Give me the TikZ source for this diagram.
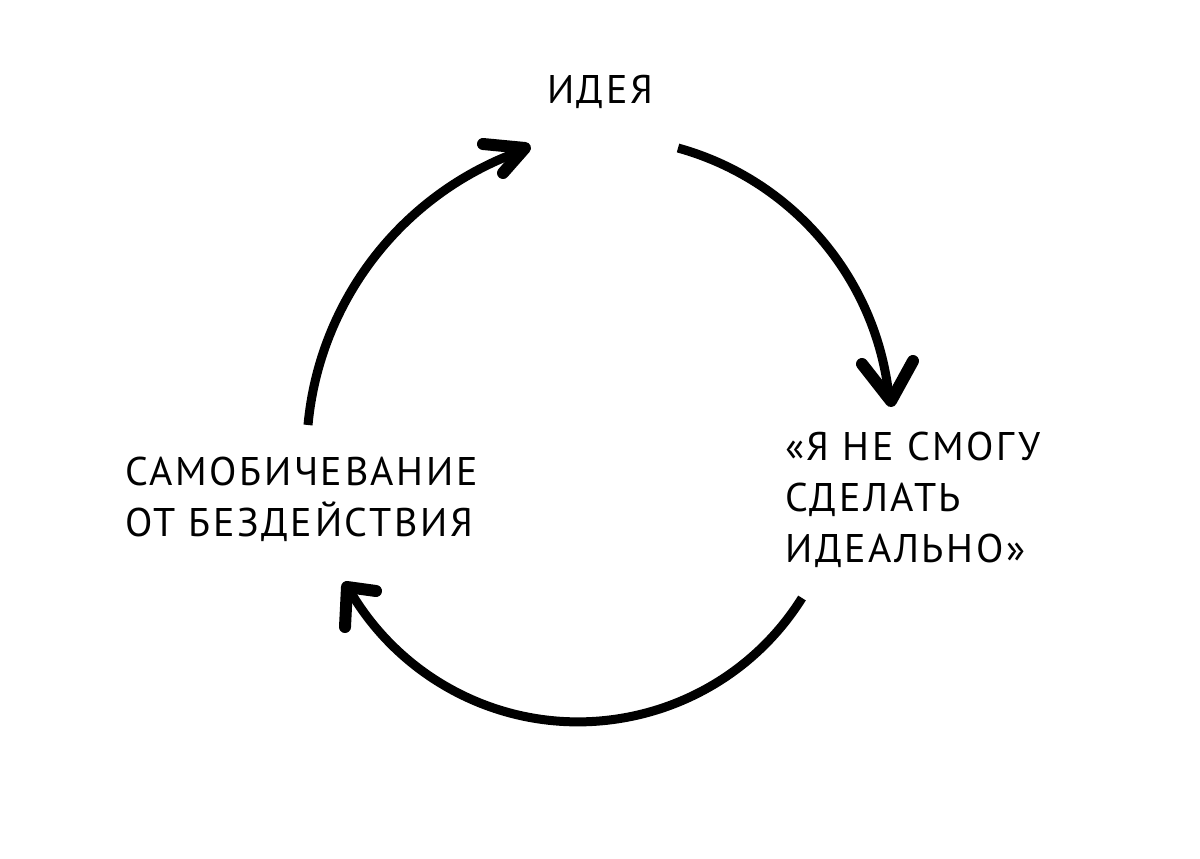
\documentclass[tikz,border=0pt]{standalone}
\usepackage{fontspec}
\setmainfont{PT Sans}[LetterSpace=6.5]
\begin{document}
\begin{tikzpicture}[x=1pt,y=-1pt,
  shaft/.style={line width=9pt, line cap=butt},
  barb/.style={line width=12pt, line cap=round, line join=round},
  lbl/.style={font=\fontsize{40}{51}\selectfont, inner sep=0pt, align=left}]
\path[use as bounding box, fill=white] (0,0) rectangle (1200,859);
% labels
\node[lbl, anchor=base] (idea) at (600,103) {ИДЕЯ};
\node[lbl, anchor=north west] (perf) at (785,432) {«Я НЕ СМОГУ\\СДЕЛАТЬ\\ИДЕАЛЬНО»};
\node[lbl, anchor=north west] (self) at (125,457) {САМОБИЧЕВАНИЕ\\ОТ БЕЗДЕЙСТВИЯ};
% connector end points
\coordinate (r0) at (678,148);
\coordinate (r1) at (891,401);
\coordinate (b0) at (802,598);
\coordinate (b1) at (347,587);
\coordinate (l0) at (308,425);
\coordinate (l1) at (525,148);
% idea -> perfectionism
\draw[shaft] (r0) arc[start angle=-74.5, end angle=-6.3, radius=290.2];
\draw[barb] (862,364) -- (r1) -- (913,361);
% perfectionism -> self-flagellation
\draw[shaft] (b0) arc[start angle=32.1, end angle=149.2, radius=264.3];
\draw[barb] (376,591) -- (b1) -- (345,627);
% self-flagellation -> idea
\draw[shaft] (l0) arc[start angle=-174.7, end angle=-110.2, radius=322.5];
\draw[barb] (483,144) -- (l1) -- (503,173);
\end{tikzpicture}
\end{document}
